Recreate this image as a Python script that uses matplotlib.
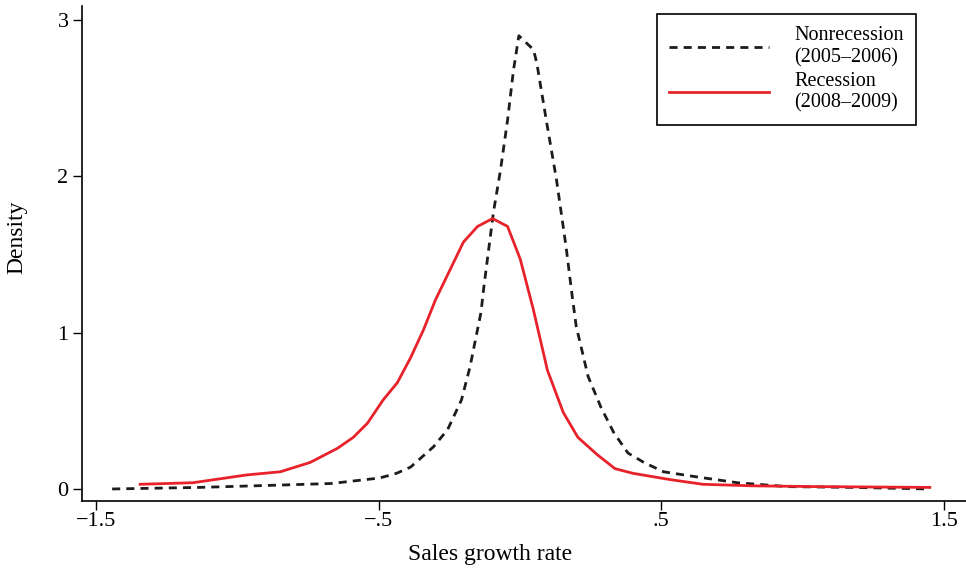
import numpy as np
import matplotlib.pyplot as plt
from matplotlib import rc

rc('font', family='serif', serif=['Liberation Serif', 'DejaVu Serif'], size=16)

# nonrecession density (2005-2006)
x_nonrec = [-1.443, -1.135, -0.848, -0.668, -0.497, -0.437, -0.387, -0.306, -0.256, -0.207,
            -0.177, -0.138, -0.128, -0.094, -0.069, -0.044, -0.023, -0.004, 0.048, 0.060,
            0.093, 0.129, 0.163, 0.185, 0.199, 0.241, 0.287, 0.332, 0.382, 0.438,
            0.508, 0.615, 0.769, 0.946, 1.180, 1.443]
y_nonrec = [0.00, 0.01, 0.025, 0.035, 0.07, 0.10, 0.14, 0.27, 0.38, 0.57,
            0.78, 1.13, 1.29, 1.77, 2.04, 2.36, 2.68, 2.90, 2.81, 2.72,
            2.36, 1.98, 1.55, 1.23, 1.04, 0.72, 0.52, 0.36, 0.23, 0.17,
            0.11, 0.08, 0.04, 0.015, 0.01, 0.00]

# recession density (2008-2009)
x_rec = [-1.344, -1.157, -0.966, -0.848, -0.742, -0.646, -0.590, -0.540, -0.484, -0.434,
         -0.387, -0.341, -0.299, -0.200, -0.150, -0.097, -0.044, 0.001, 0.047, 0.097,
         0.153, 0.205, 0.273, 0.336, 0.400, 0.531, 0.647, 0.824, 1.060, 1.450]
y_rec = [0.03, 0.04, 0.09, 0.11, 0.17, 0.26, 0.33, 0.42, 0.57, 0.68,
         0.84, 1.02, 1.21, 1.58, 1.68, 1.73, 1.68, 1.47, 1.15, 0.76,
         0.49, 0.33, 0.22, 0.13, 0.10, 0.06, 0.03, 0.02, 0.015, 0.01]

xticks = [-1.5, -0.5, 0.5, 1.5]
xtick_labels = ['\u22121.5', '\u2212.5', '.5', '1.5']
yticks = [0, 1, 2, 3]

fig = plt.figure(figsize=(9.66, 5.68), dpi=100)
ax = fig.add_axes([0.0846, 0.1185, 0.9154, 0.8709])

ax.plot(x_nonrec, y_nonrec, color='#1c1c1c', lw=2.0, ls=(0, (2.9, 2.2)),
        label='Nonrecession\n(2005\u20132006)')
ax.plot(x_rec, y_rec, color='#e8222b', lw=2.0,
        label='Recession\n(2008\u20132009)')

ax.set_xlim(-1.5506, 1.578)
ax.set_ylim(-0.075, 3.09)
ax.set_xticks(xticks)
ax.set_xticklabels(xtick_labels)
ax.set_yticks(yticks)

for s in ['top', 'right']:
    ax.spines[s].set_visible(False)
for s in ['left', 'bottom']:
    ax.spines[s].set_linewidth(1.2)
ax.tick_params(direction='out', length=6.5, width=1.0, labelsize=16)
ax.tick_params(axis='x', pad=2)
ax.tick_params(axis='y', pad=3)

ax.set_xlabel('Sales growth rate', fontsize=17)
ax.set_ylabel('Density', fontsize=17)
ax.xaxis.set_label_coords(0.4623, -0.087)
ax.yaxis.set_label_coords(-0.062, 0.533)

leg = ax.legend(loc='upper right', bbox_to_anchor=(0.9435, 0.9838), fontsize=14.5,
                handlelength=5.0, handletextpad=1.25, borderpad=0.6,
                labelspacing=0.22, borderaxespad=0, fancybox=False, framealpha=1)
leg.get_frame().set_edgecolor('black')
leg.get_frame().set_linewidth(1.2)

plt.savefig('out.png', dpi=100)
plt.close()
